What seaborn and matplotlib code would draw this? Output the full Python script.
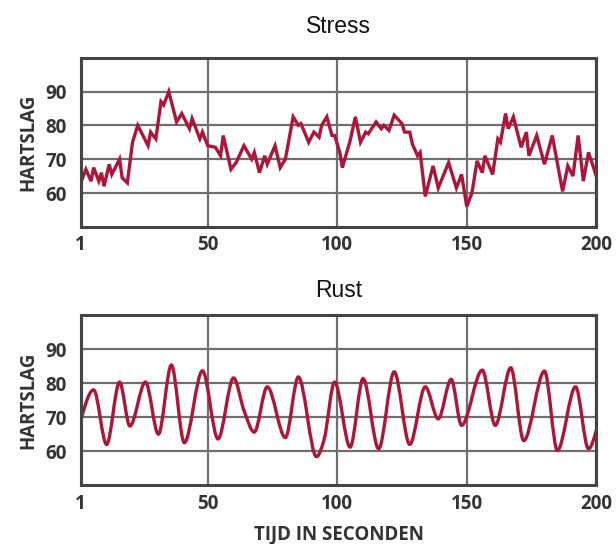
import numpy as np
import pandas as pd
import seaborn as sns
import matplotlib.pyplot as plt
from matplotlib.path import Path
from matplotlib.patches import PathPatch

# Stress: heart rate
stress_t = [1, 3, 5, 6, 8, 9, 10, 12, 13, 16, 17, 19, 21, 23, 27, 28, 30, 32, 33, 35,
            38, 40, 41, 43, 44, 47, 48, 50, 53, 55, 56, 59, 61, 64, 67, 68, 70, 72, 73, 76,
            78, 80, 83, 85, 86, 89, 91, 93, 94, 96, 98, 99, 101, 102, 105, 107, 109, 111, 112, 115,
            117, 118, 120, 122, 125, 126, 128, 129, 131, 132, 134, 137, 139, 143, 146, 148, 150, 152, 154, 156,
            157, 160, 162, 163, 165, 166, 168, 171, 173, 174, 177, 180, 183, 187, 189, 191, 193, 195, 197, 200]
stress_hr = [63, 67, 63.5, 67.5, 63.5, 66, 62, 68.5, 65.5, 70, 64.5, 63, 75, 80, 74, 78, 76, 87, 86, 90,
             81, 83.5, 82, 79, 82, 76, 78, 74, 73.5, 71, 77, 67, 69, 74, 70, 72, 66, 71, 68.5, 74,
             67.5, 70, 82.5, 80, 80.5, 75, 78, 76.5, 80, 82.5, 77, 77, 72, 67.5, 75.5, 82.5, 75, 78, 77.5, 81,
             79, 80, 78.5, 83, 80.5, 78, 78, 74.5, 71, 72, 59, 68, 61.5, 69, 61.5, 65.5, 56, 60, 69.5, 66,
             71, 65.5, 76, 75, 83.5, 79, 82.5, 73.5, 78, 71, 77, 68.5, 77, 60.5, 68, 65, 77, 63.5, 72, 65]

# Rust: peaks and troughs of the smooth bottom chart
rust_t = [1, 6, 11, 16, 20, 26, 31, 36, 41, 48, 54, 60, 64, 68, 73, 80, 85, 92, 95, 99,
          105, 110, 116, 122, 128, 134, 139, 144, 148, 156, 161, 167, 172, 180, 185, 192, 197, 200]
rust_hr = [69, 78, 62, 80.3, 67.4, 80.3, 65, 85.3, 62.5, 83.6, 63.6, 81.5, 72, 65.6, 78.9, 64, 81.8, 58.4, 63.6, 80.3,
           61.2, 81.3, 60.7, 83.3, 62, 78.9, 69.5, 81.1, 67.6, 83.8, 67.6, 84.5, 63.1, 83.5, 60.2, 78.9, 60.7, 66.1]

x_ticks = [1, 50, 100, 150, 200]
y_ticks = [60, 70, 80, 90]
titles = ["Stress", "Rust"]

LINE = "#ad1539"


def smooth_path(xs, ys):
    # monotone cubic rendering of the read vertices (like d3 curveMonotoneX)
    x = np.asarray(xs, float)
    y = np.asarray(ys, float)
    h = np.diff(x)
    s = np.diff(y) / h
    n = len(x)
    t = np.zeros(n)
    for k in range(1, n - 1):
        if s[k - 1] * s[k] > 0:
            p = (s[k - 1] * h[k] + s[k] * h[k - 1]) / (h[k - 1] + h[k])
            t[k] = np.sign(s[k]) * min(abs(s[k - 1]), abs(s[k]), 0.5 * abs(p)) * 2
    t[0] = (3 * s[0] - t[1]) / 2
    t[-1] = (3 * s[-1] - t[-2]) / 2
    verts = [(x[0], y[0])]
    codes = [Path.MOVETO]
    for k in range(n - 1):
        d = h[k] / 3
        verts += [(x[k] + d, y[k] + t[k] * d), (x[k + 1] - d, y[k + 1] - t[k + 1] * d), (x[k + 1], y[k + 1])]
        codes += [Path.CURVE4] * 3
    return Path(verts, codes)


sns.set_theme(style="white")
plt.rcParams["font.family"] = ["Open Sans", "DejaVu Sans"]

fig = plt.figure(figsize=(6.16, 5.44), dpi=100)
ax1 = fig.add_axes([0.131, 0.583, 0.837, 0.311])
ax2 = fig.add_axes([0.131, 0.108, 0.837, 0.313])

stress = pd.DataFrame({"t": stress_t, "hr": stress_hr})
sns.lineplot(data=stress, x="t", y="hr", ax=ax1, color=LINE, linewidth=2.4,
             solid_joinstyle="miter")

rust = pd.DataFrame({"t": rust_t, "hr": rust_hr})
ax2.add_patch(PathPatch(smooth_path(rust["t"], rust["hr"]), facecolor="none",
                        edgecolor=LINE, linewidth=2.4, capstyle="round"))

for ax, title, pad in zip([ax1, ax2], titles, [18, 13]):
    ax.set_xlim(1, 200)
    ax.set_ylim(50, 100)
    ax.set_xticks(x_ticks)
    ax.set_yticks(y_ticks)
    ax.grid(True, color="#6f6f6f", linewidth=1.6)
    ax.set_axisbelow(True)
    for sp in ax.spines.values():
        sp.set_color("#444444")
        sp.set_linewidth(2.2)
        sp.set_visible(True)
    ax.tick_params(length=0, labelsize=13.5, labelcolor="#333333", pad=6)
    ax.tick_params(axis="y", pad=10)
    for lab in ax.get_xticklabels() + ax.get_yticklabels():
        lab.set_fontweight("bold")
    ax.set_title(title, fontsize=16.5, family=["Liberation Sans", "DejaVu Sans"], pad=pad, color="#111111")
    ax.set_ylabel("HARTSLAG", fontsize=13.5, fontweight="bold", color="#333333", labelpad=5)
    ax.set_xlabel("")

ax2.set_xlabel("TIJD IN SECONDEN", fontsize=13.5, fontweight="bold", color="#333333", labelpad=8)

fig.savefig("out.png", dpi=100, facecolor="white")
